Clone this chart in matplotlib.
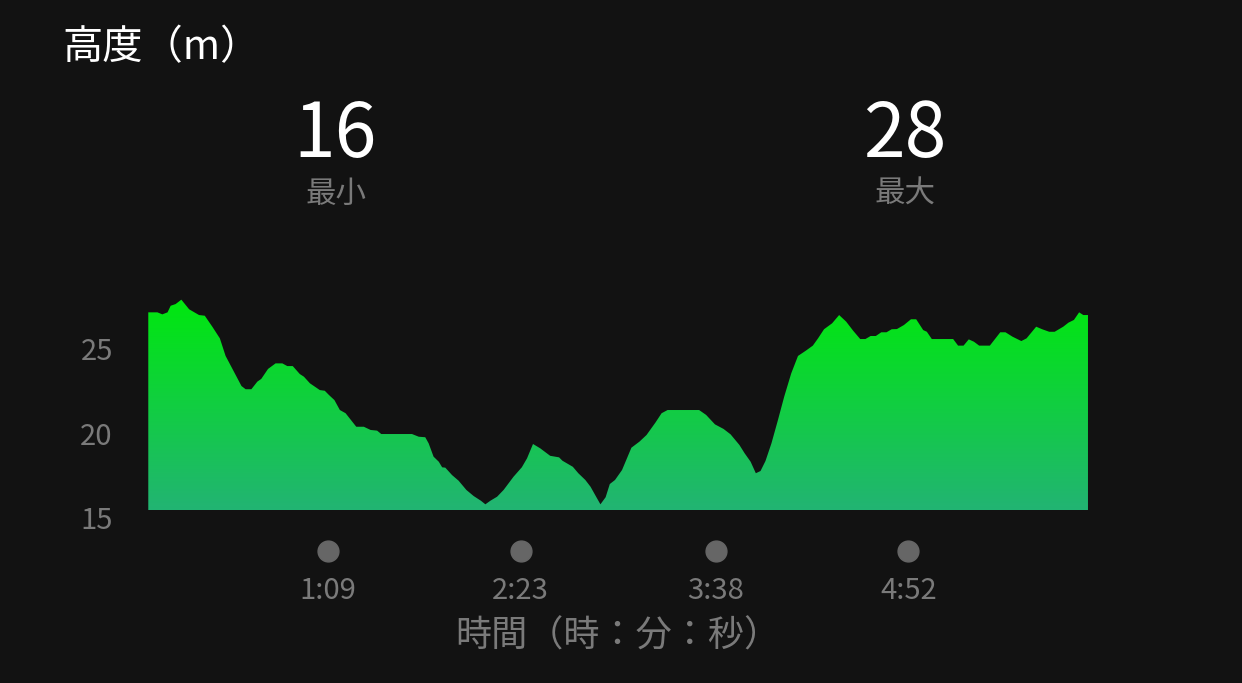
import numpy as np
import matplotlib
matplotlib.use("Agg")
import matplotlib.pyplot as plt
from matplotlib.colors import LinearSegmentedColormap

plt.rcParams['font.family'] = ['Noto Sans CJK JP', 'DejaVu Sans']

# Datos (segundos, metros)
seconds = [0, 3.5, 5.4, 7.4, 8.6, 10.5, 12.7, 15.7, 19.5, 21.7, 24.6, 27.5, 29.7,
           31.9, 35.8, 37.4, 39.6, 41.9, 43.4, 46, 48.9, 51.5, 53.4, 55.5, 58.2,
           59.8, 62.1, 65.9, 67.8, 69.4, 71.5, 73.6, 75.8, 79.9, 82.8, 85.4, 87.9,
           89.5, 101.3, 103.9, 106.4, 107.7, 109.6, 111.6, 112.9, 114.1, 116.7,
           119.2, 122.2, 125, 127.8, 129.5, 131.4, 134, 136.5, 140.3, 143.5, 145.5,
           147.8, 150.6, 154.4, 157.8, 159.1, 163.1, 165.2, 167.9, 169.9, 171.9,
           173.7, 175.7, 177.3, 179.3, 182, 185.6, 188.7, 191.4, 194.8, 197.2,
           199.5, 211.6, 214.3, 217.7, 221, 223.7, 227.1, 229.1, 231.4, 233.4,
           235.2, 237.1, 239.4, 241.9, 244.3, 247, 249.6, 252.6, 255.3, 257.3,
           259.6, 262.7, 265.4, 268.1, 270.8, 273.5, 275.5, 277.5, 279.5, 281.6,
           283.6, 285.6, 287.6, 290.3, 293, 295, 297.7, 299.1, 301, 309.2, 311.1,
           313.2, 315.2, 317.2, 319.2, 323.3, 327.3, 329.3, 332, 335.4, 337.4,
           341.1, 343.4, 346.1, 348.2, 351.5, 353.5, 355.6, 357.6, 359.2, 361]
altitude = [27.14, 27.14, 27.02, 27.14, 27.53, 27.63, 27.89, 27.32, 26.98, 26.94,
            26.29, 25.6, 24.56, 23.92, 22.78, 22.59, 22.59, 23.04, 23.2, 23.79,
            24.12, 24.12, 23.96, 23.96, 23.49, 23.33, 22.94, 22.54, 22.5, 22.25,
            21.95, 21.36, 21.17, 20.37, 20.37, 20.18, 20.14, 19.94, 19.94, 19.78,
            19.75, 19.39, 18.6, 18.3, 17.97, 17.95, 17.51, 17.18, 16.63, 16.27,
            15.99, 15.78, 15.99, 16.23, 16.63, 17.41, 17.97, 18.5, 19.35, 19.09,
            18.65, 18.56, 18.36, 18.0, 17.62, 17.22, 16.82, 16.27, 15.78, 16.2,
            16.98, 17.22, 17.81, 19.13, 19.49, 19.88, 20.61, 21.17, 21.36, 21.36,
            21.07, 20.51, 20.24, 19.92, 19.29, 18.8, 18.3, 17.62, 17.75, 18.34,
            19.39, 20.77, 22.15, 23.53, 24.56, 24.87, 25.17, 25.6, 26.14, 26.49,
            26.98, 26.59, 26.05, 25.56, 25.56, 25.74, 25.74, 25.96, 25.96, 26.14,
            26.15, 26.39, 26.73, 26.73, 26.09, 25.99, 25.56, 25.56, 25.17, 25.17,
            25.54, 25.4, 25.17, 25.17, 25.96, 25.96, 25.7, 25.44, 25.6, 26.29,
            26.14, 25.99, 25.99, 26.29, 26.53, 26.69, 27.14, 26.98, 26.98]

y_ticks = [15, 20, 25]
x_ticks = [69, 143, 218, 292]
x_tick_labels = ["1:09", "2:23", "3:38", "4:52"]
min_alt = "16"
max_alt = "28"

BG = "#121212"
GREY = "#7a7a7a"
BASE = 15.44

fig = plt.figure(figsize=(12.42, 6.83), dpi=100, facecolor=BG)
ax = fig.add_axes([147.5 / 1242, 1 - 517.5 / 683, 941 / 1242, 219.7 / 683])
ax.set_facecolor(BG)

# Relleno con degradado
poly = ax.fill_between(seconds, altitude, BASE, color="none", lw=0)
cmap = LinearSegmentedColormap.from_list("alt", ["#22b473", "#00e80e"])
grad = np.linspace(0, 1, 256).reshape(-1, 1)
img = ax.imshow(grad, cmap=cmap, origin="lower", aspect="auto",
                extent=[0, 361, BASE, 27.9], zorder=2)
img.set_clip_path(poly.get_paths()[0], transform=ax.transData)

ax.set_xlim(-0.3, 361.2)
ax.set_ylim(15, 28)
for s in ax.spines.values():
    s.set_visible(False)

ax.set_yticks(y_ticks)
ax.tick_params(axis="y", length=0, pad=25, labelsize=21, labelcolor=GREY)
ax.set_xticks(x_ticks, x_tick_labels)
ax.tick_params(axis="x", length=0, pad=42, labelsize=21, labelcolor=GREY)

# Puntos de los ticks de tiempo
ax.plot(x_ticks, [-0.1525] * len(x_ticks), "o", color="#666666", markersize=15,
        transform=ax.get_xaxis_transform(), clip_on=False)

ax.set_xlabel("時間（時：分：秒）", fontsize=26, color=GREY, labelpad=9)

fig.text(62 / 1242, 1 - 48 / 683, "高度（m）", fontsize=29, color="white", va="center")
fig.text(335 / 1242, 1 - 135 / 683, min_alt, fontsize=54, color="white", ha="center", va="center")
fig.text(336 / 1242, 1 - 194 / 683, "最小", fontsize=22, color=GREY, ha="center", va="center")
fig.text(905 / 1242, 1 - 135 / 683, max_alt, fontsize=54, color="white", ha="center", va="center")
fig.text(905 / 1242, 1 - 194 / 683, "最大", fontsize=22, color=GREY, ha="center", va="center")

fig.savefig("out.png", dpi=100, facecolor=BG)
